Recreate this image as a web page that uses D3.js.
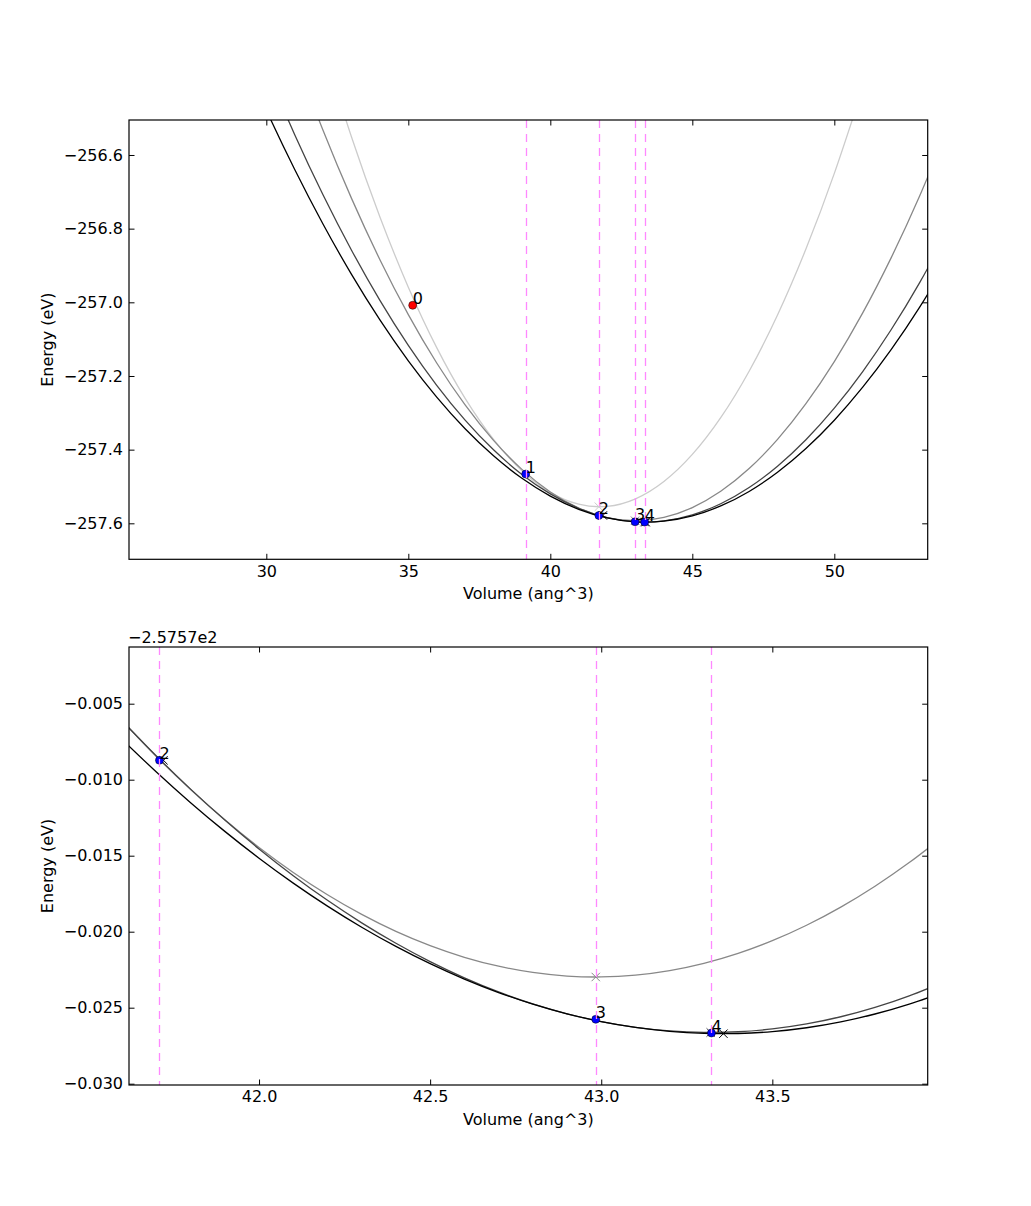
<!DOCTYPE html>
<html><head><meta charset="utf-8">
<script src="https://cdn.jsdelivr.net/npm/d3@7"></script>
<style>
body{margin:0;background:#fff}
svg{display:block}
text{font-family:"DejaVu Sans",sans-serif;font-size:16px;fill:#000}
</style>
</head><body>
<svg id="c" width="1031" height="1206"></svg>
<script>
// ---------------- data ----------------
const pointLabels = ["0", "1", "2", "3", "4"];
const pointV = [35.154, 39.133, 41.709, 42.984, 43.322];
const pointE = [-257.008, -257.4663, -257.578724, -257.595764, -257.596665];
const pointColors = ["#ff0000", "#0000ff", "#0000ff", "#0000ff", "#0000ff"];

// vertical guide lines (volumes of points 1..4)
const guideV = [39.133, 41.709, 42.984, 43.322];

// fit minima (x markers)
const fitColors = ["#cccccc", "#888888", "#444444", "#000000"];
const minV = [41.709, 42.984, 43.320, 43.357];
const minE = [-257.555, -257.59298, -257.59663, -257.59671];

// top panel curves
const topV_fit1 = [32,33,34,35,36,37,38,39,40,41,42,43,44,45,46,47,48,49,50,51];
const topE_fit1 = [-256.3079,-256.5513,-256.7683,-256.9589,-257.1231,-257.2609,-257.3723,-257.4573,-257.5160,-257.5482,
                   -257.5540,-257.5334,-257.4864,-257.4130,-257.3132,-257.1870,-257.0344,-256.8554,-256.6500,-256.4182];
const topV_fit2 = [31,32,33,34,35,36,37,38,39,40,41,42,43,44,45,46,47,48,49,50,51,52,53,54];
const topE_fit2 = [-256.3320,-256.5337,-256.7178,-256.8843,-257.0333,-257.1647,-257.2786,-257.3749,-257.4536,-257.5148,
                   -257.5584,-257.5845,-257.5930,-257.5839,-257.5573,-257.5131,-257.4514,-257.3721,-257.2752,-257.1608,
                   -257.0288,-256.8793,-256.7122,-256.5275];
const topV_fit3 = [30,31,32,33,34,35,36,37,38,39,40,41,42,43,44,45,46,47,48,49,50,51,52,53,54];
const topE_fit3 = [-256.3671,-256.5448,-256.7086,-256.8585,-256.9946,-257.1169,-257.2253,-257.3198,-257.4005,-257.4673,
                   -257.5202,-257.5593,-257.5845,-257.5959,-257.5934,-257.5770,-257.5468,-257.5028,-257.4448,-257.3730,
                   -257.2874,-257.1879,-257.0745,-256.9473,-256.8062];
const topV_fit4 = [29,30,31,32,33,34,35,36,37,38,39,40,41,42,43,44,45,46,47,48,49,50,51,52,53,54];
const topE_fit4 = [-256.3043,-256.4781,-256.6393,-256.7880,-256.9241,-257.0478,-257.1588,-257.2573,-257.3433,-257.4168,
                   -257.4777,-257.5260,-257.5619,-257.5852,-257.5959,-257.5941,-257.5798,-257.5529,-257.5135,-257.4615,
                   -257.3970,-257.3200,-257.2304,-257.1283,-257.0137,-256.8865];

// bottom panel curves (zoomed)
const botV = [41.6,41.7,41.8,41.9,42.0,42.1,42.2,42.3,42.4,42.5,42.6,42.7,42.8,42.9,43.0,43.1,43.2,43.3,43.4,43.5,43.6,43.7,43.8,43.9,44.0];
const botE_fit2 = [-257.576124,-257.578472,-257.580644,-257.582639,-257.584459,-257.586103,-257.587571,-257.588863,-257.589979,-257.590918,
                   -257.591682,-257.592270,-257.592682,-257.592918,-257.592978,-257.592859,-257.592562,-257.592084,-257.591428,-257.590592,
                   -257.589576,-257.588381,-257.587007,-257.585454,-257.583721];
const botE_fit3 = [-257.576128,-257.578443,-257.580619,-257.582656,-257.584555,-257.586315,-257.587937,-257.589420,-257.590764,-257.591970,
                   -257.593037,-257.593966,-257.594756,-257.595408,-257.595920,-257.596295,-257.596530,-257.596627,-257.596584,-257.596398,
                   -257.596069,-257.595596,-257.594980,-257.594221,-257.593319];
const botE_fit4 = [-257.577354,-257.579495,-257.581510,-257.583400,-257.585164,-257.586803,-257.588317,-257.589705,-257.590968,-257.592105,
                   -257.593117,-257.594004,-257.594765,-257.595401,-257.595911,-257.596296,-257.596555,-257.596690,-257.596698,-257.596575,
                   -257.596320,-257.595934,-257.595415,-257.594764,-257.593981];

// axes
const topXTicks = [30, 35, 40, 45, 50];
const topYTicks = [-256.6, -256.8, -257.0, -257.2, -257.4, -257.6];
const botXTicks = [42.0, 42.5, 43.0, 43.5];
const botOffset = -257.57;
const botOffsetLabel = "\u22122.5757e2";
const botYTicks = [-0.005, -0.010, -0.015, -0.020, -0.025, -0.030];
const xLabel = "Volume (ang^3)";
const yLabel = "Energy (eV)";

// ---------------- drawing ----------------
const svg = d3.select("#c");
svg.append("rect").attr("width", 1031).attr("height", 1206).attr("fill", "#fff");
const minus = s => s.replace("-", "\u2212");
const crossPath = "M-4.2,-4.2L4.2,4.2M-4.2,4.2L4.2,-4.2";

function panel(cfg) {
  const L = 129, R = 927.7, T = cfg.top, B = cfg.bottom;
  const x = d3.scaleLinear().domain(cfg.xDomain).range([L, R]);
  const y = d3.scaleLinear().domain(cfg.yDomain).range([B, T]);

  svg.append("clipPath").attr("id", cfg.id)
    .append("rect").attr("x", L).attr("y", T).attr("width", R - L).attr("height", B - T);
  const g = svg.append("g").attr("clip-path", `url(#${cfg.id})`);

  const line = d3.line().x(d => x(d[0])).y(d => y(d[1])).curve(d3.curveNatural);
  cfg.curves.forEach(c => {
    g.append("path").attr("d", line(d3.zip(c.v, c.e)))
      .attr("fill", "none").attr("stroke", fitColors[c.fit]).attr("stroke-width", 1.3);
  });

  // fit minimum markers
  minV.forEach((v, i) => {
    if (!cfg.fits.includes(i)) return;
    g.append("path").attr("d", crossPath)
      .attr("transform", `translate(${x(v)},${y(minE[i])})`)
      .attr("stroke", fitColors[i]).attr("stroke-width", 1).attr("fill", "none");
  });
  // extra dark marker beside point 2
  g.append("path").attr("d", crossPath)
    .attr("transform", `translate(${x(pointV[2]) + 4},${y(pointE[2])})`)
    .attr("stroke", "#000").attr("stroke-width", 1).attr("fill", "none");

  // points
  pointV.forEach((v, i) => {
    g.append("circle").attr("cx", x(v)).attr("cy", y(pointE[i])).attr("r", 4)
      .attr("fill", pointColors[i]).attr("stroke", "#000").attr("stroke-width", 0.5);
  });

  // guide lines
  guideV.forEach(v => {
    const gx = Math.round(x(v)) + 0.5;
    g.append("line").attr("x1", gx).attr("x2", gx).attr("y1", T).attr("y2", B)
      .attr("stroke", "#ff88ff").attr("stroke-width", 1.3).attr("stroke-dasharray", "8,6");
  });

  // point labels
  pointV.forEach((v, i) => {
    const px = x(v), py = y(pointE[i]);
    if (px < L || px > R || py < T || py > B) return;
    svg.append("text").attr("x", px).attr("y", py - 1.5).text(pointLabels[i]);
  });

  // axes
  const styleAxis = sel => {
    sel.select(".domain").remove();
    sel.selectAll(".tick line").attr("stroke", "#000").attr("stroke-width", 1);
    sel.selectAll("text").attr("font-size", 16).attr("font-family", "DejaVu Sans").attr("fill", "#000");
  };
  svg.append("g").attr("transform", `translate(0,${B})`)
    .call(d3.axisBottom(x).tickValues(cfg.xTicks).tickSize(-5.5).tickPadding(6).tickFormat(cfg.xFmt))
    .call(styleAxis);
  svg.append("g").attr("transform", `translate(0,${T})`)
    .call(d3.axisTop(x).tickValues(cfg.xTicks).tickSize(-5.5).tickFormat(""))
    .call(styleAxis);
  svg.append("g").attr("transform", `translate(${L},0)`)
    .call(d3.axisLeft(y).tickValues(cfg.yTicks).tickSize(-5.5).tickPadding(6).tickFormat(cfg.yFmt))
    .call(styleAxis);
  svg.append("g").attr("transform", `translate(${R},0)`)
    .call(d3.axisRight(y).tickValues(cfg.yTicks).tickSize(-5.5).tickFormat(""))
    .call(styleAxis);

  svg.append("rect").attr("x", L).attr("y", T).attr("width", R - L).attr("height", B - T)
    .attr("fill", "none").attr("stroke", "#000").attr("stroke-width", 1.2);

  svg.append("text").attr("x", (L + R) / 2).attr("y", B + 40).attr("text-anchor", "middle").text(xLabel);
  svg.append("text").attr("transform", `translate(53,${(T + B) / 2}) rotate(-90)`)
    .attr("text-anchor", "middle").text(yLabel);
  if (cfg.offsetLabel) {
    svg.append("text").attr("x", L - 1).attr("y", T - 4).text(cfg.offsetLabel);
  }
}

panel({
  id: "clipTop", top: 120, bottom: 559.3,
  xDomain: [25.165, 53.288], yDomain: [-257.6977, -256.505],
  xTicks: topXTicks, yTicks: topYTicks,
  xFmt: d3.format("d"), yFmt: v => minus(v.toFixed(1)),
  fits: [0, 1, 2, 3],
  curves: [
    {fit: 0, v: topV_fit1, e: topE_fit1},
    {fit: 1, v: topV_fit2, e: topE_fit2},
    {fit: 2, v: topV_fit3, e: topE_fit3},
    {fit: 3, v: topV_fit4, e: topE_fit4}
  ]
});

panel({
  id: "clipBot", top: 647, bottom: 1085,
  xDomain: [41.62, 43.954], yDomain: [botOffset - 0.030086, botOffset - 0.00127],
  xTicks: botXTicks, yTicks: botYTicks.map(t => botOffset + t),
  xFmt: v => v.toFixed(1), yFmt: v => minus((v - botOffset).toFixed(3)),
  fits: [0, 1, 2, 3],
  offsetLabel: botOffsetLabel,
  curves: [
    {fit: 1, v: botV, e: botE_fit2},
    {fit: 2, v: botV, e: botE_fit3},
    {fit: 3, v: botV, e: botE_fit4}
  ]
});
</script>
</body></html>
